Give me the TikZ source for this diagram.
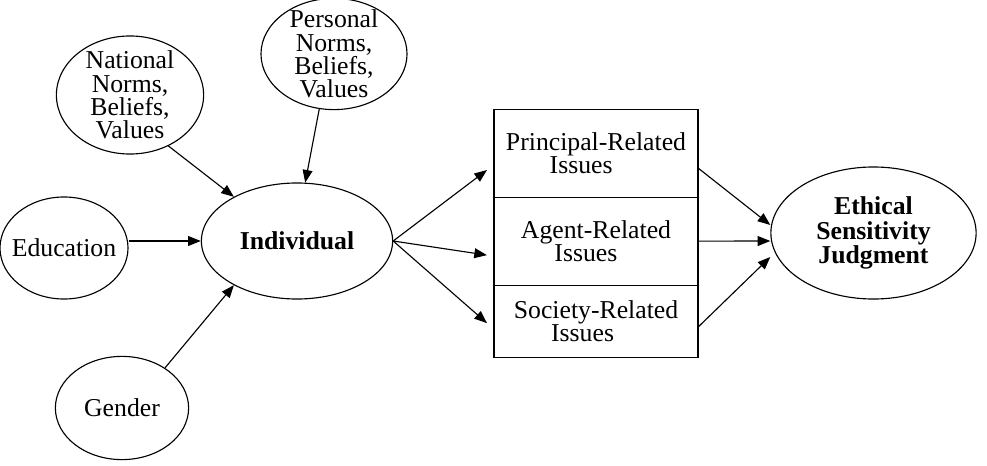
\documentclass[tikz,border=0pt]{standalone}
\usepackage{fontspec}
\setmainfont{Liberation Serif}
\usetikzlibrary{arrows.meta, positioning, shapes.geometric}

\newcommand{\diagfont}{\fontsize{18.3pt}{16.5pt}\selectfont}

\begin{document}
\begin{tikzpicture}[
  x=0.025cm, y=-0.025cm,
  every node/.style={font=\diagfont},
  factor/.style={draw, ellipse, align=center, inner sep=-6pt, line width=0.8pt},
  issue/.style={draw, rectangle, align=left, minimum width=5.1cm, outer sep=0pt, line width=0.8pt},
  arr/.style={-{Triangle[length=9pt, width=7pt]}, line width=0.8pt},
]
 \useasboundingbox (0,0) rectangle (987,466);

 % ---- Antecedents of the individual ----
 \node[factor, minimum width=3.68cm, minimum height=2.95cm] (national) at (130,95) {National\\Norms,\\Beliefs,\\Values};
 \node[factor, minimum width=3.65cm, minimum height=2.78cm] (personal) at (334,54) {Personal\\Norms,\\Beliefs,\\Values};
 \node[factor, minimum width=3.2cm, minimum height=2.55cm] (education) at (64,248) {Education};
 \node[factor, minimum width=3.33cm, minimum height=2.58cm] (gender) at (122,408) {Gender};
 \node[factor, font=\diagfont\bfseries, minimum width=4.78cm, minimum height=2.9cm] (indiv) at (297,241) {Individual};

 % ---- Issue boxes ----
 \node[issue, minimum height=2.18cm] (principal) at (596,153.5) {Principal-Related\\\hspace*{1.7em}Issues};
 \node[issue, minimum height=2.2cm, below=0pt of principal] (agent) {Agent-Related\\\hspace*{1.3em}Issues};
 \node[issue, minimum height=1.8cm, below=0pt of agent] (society) {Society-Related\\\hspace*{1.45em}Issues};

 % ---- Outcome ----
 \node[factor, font=\fontsize{18.3pt}{17.4pt}\selectfont\bfseries, minimum width=5.13cm, minimum height=3.3cm] (ethical) at (873.5,233) {Ethical\\Sensitivity\\Judgment};

 \draw[arr] (national.-53) -- (indiv.145);
 \draw[arr] (personal.-105) -- (indiv.82);
 \draw[arr] (education.east |- indiv.west) -- (indiv.west);
 \draw[arr] (gender.43) -- (indiv.215);

 \draw[arr] (indiv.east) -- ([shift={(-7,16.5)}]principal.west);
 \draw[arr] (indiv.east) -- ([shift={(-7,14)}]agent.west);
 \draw[arr] (indiv.east) -- ([shift={(-7,2)}]society.west);

 \draw[arr] ([shift={(0,14.5)}]principal.east) -- ([shift={(0,-8)}]ethical.west);
 \draw[arr] (agent.east) -- ([shift={(0,8)}]ethical.west);
 \draw[arr] ([shift={(0,6)}]society.east) -- ([shift={(0,24)}]ethical.west);

\end{tikzpicture}
\end{document}
